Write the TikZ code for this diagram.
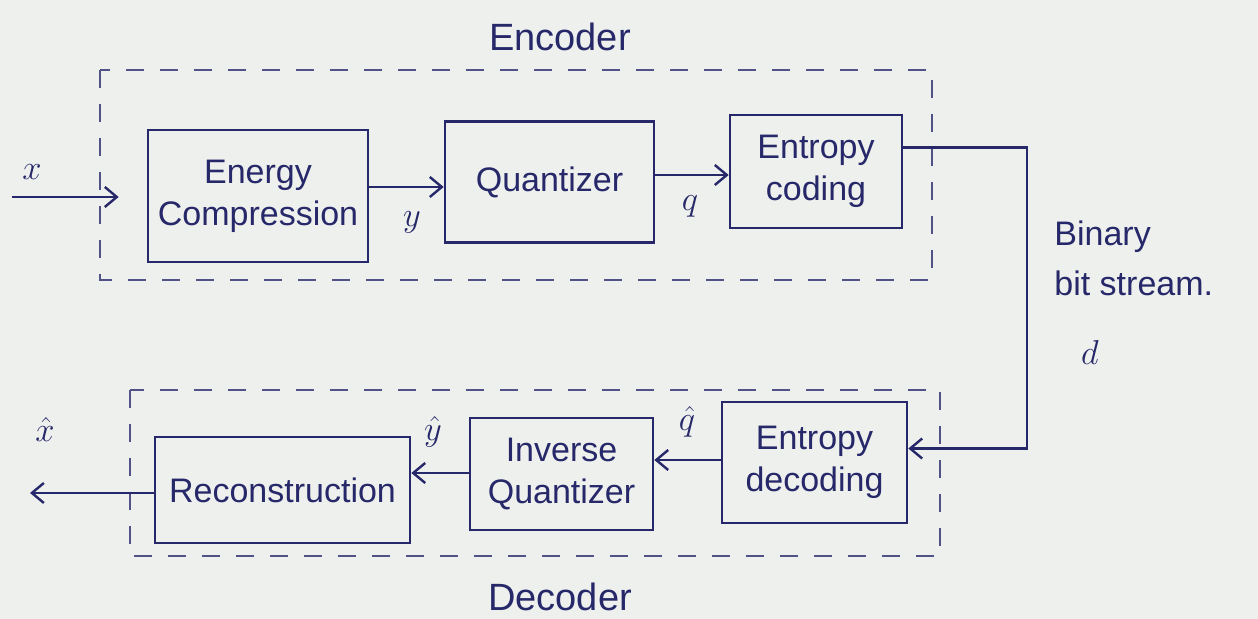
\documentclass[tikz,border=0pt]{standalone}
\usepackage{fontspec}
\setmainfont{Liberation Sans}
\usetikzlibrary{arrows.meta}
\definecolor{ink}{RGB}{38,40,105}
\definecolor{paper}{RGB}{238,240,237}
\tikzset{
  block/.style={draw=ink, line width=1.3pt, text=ink, align=center,
    font=\fontsize{17}{21}\selectfont, inner sep=2pt},
  flow/.style={draw=ink, line width=1.3pt, -{Straight Barb[length=6pt,width=10pt,line width=1.2pt]}},
  groupbox/.style={draw=ink!80, line width=0.9pt, dash pattern=on 9pt off 8pt},
  sig/.style={text=ink, font=\fontsize{18}{20}\selectfont, inner sep=1pt},
  title/.style={text=ink, font=\fontsize{19}{22}\selectfont},
}
\begin{document}
\begin{tikzpicture}[x=0.5pt,y=-0.5pt]
  % paper
  \fill[paper] (0,0) rectangle (1258,619);
  \useasboundingbox (0,0) rectangle (1258,619);

  % encoder / decoder regions
  \draw[groupbox] (100,70) rectangle (932,280);
  \draw[groupbox] (130,390) rectangle (940,556);
  \node[title] (enclabel) at (560,37) {Encoder};
  \node[title] (declabel) at (560,597) {Decoder};

  % encoder blocks
  \node[block, minimum width=110pt, minimum height=66pt] (energy) at (258,196) {Energy\\Compression};
  \node[block, minimum width=104.5pt, minimum height=60.5pt] (quant) at (549.5,182) {Quantizer};
  \node[block, minimum width=86pt, minimum height=56.5pt] (entc) at (816,171.5) {Entropy\\coding};

  % decoder blocks
  \node[block, minimum width=92.5pt, minimum height=60.5pt] (entd) at (814.5,462.5) {Entropy\\decoding};
  \node[block, minimum width=91.5pt, minimum height=56pt] (invq) at (561.5,474) {Inverse\\Quantizer};
  \node[block, minimum width=127.5pt, minimum height=53pt] (recon) at (282.5,490) {Reconstruction};

  % free ends and the bit-stream return
  \coordinate (xin) at (12,197);
  \coordinate (xout) at (30,493);
  \coordinate (bend) at (1027,300);

  % encoder chain
  \draw[flow, shorten >=14pt] (xin) -- (xin -| energy.west);
  \draw[flow] ([yshift=4.5pt]energy.east) -- ([yshift=4.5pt]energy.east -| quant.west);
  \draw[flow] ([yshift=3.5pt]quant.east) -- ([yshift=3.5pt]quant.east -| entc.west);

  % bit stream
  \draw[flow] ([yshift=12pt]entc.east) -| (bend) |- ([yshift=7pt]entd.east);

  % decoder chain
  \draw[flow] ([yshift=1.25pt]entd.west) -- ([yshift=1.25pt]entd.west -| invq.east);
  \draw[flow] ([yshift=0.5pt]invq.west) -- ([yshift=0.5pt]invq.west -| recon.east);
  \draw[flow] ([yshift=-1.5pt]recon.west) -- (xout);

  % signal labels
  \node[sig] (lx) at (32,172) {$x$};
  \node[sig] (ly) at (412,222) {$y$};
  \node[sig] (lq) at (690,206) {$q$};
  \node[sig] (lyh) at (433,432) {$\hat{y}$};
  \node[sig] (lqh) at (687,422) {$\hat{q}$};
  \node[sig] (lxh) at (45,430) {$\hat{x}$};
  \node[sig] (ld) at (1090,353) {$d$};
  \node[sig, anchor=west, align=left, font=\fontsize{17}{25}\selectfont] (bits) at (1052,258) {Binary\\bit stream.};
\end{tikzpicture}
\end{document}
